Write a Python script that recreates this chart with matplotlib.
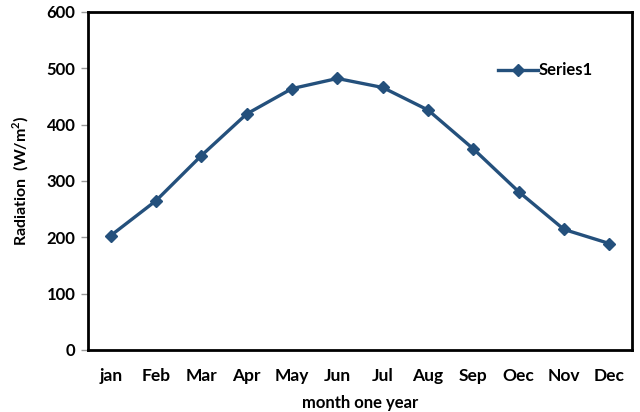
import matplotlib
matplotlib.use("Agg")
import matplotlib.pyplot as plt

months = ["jan", "Feb", "Mar", "Apr", "May", "Jun", "Jul", "Aug", "Sep", "Oec", "Nov", "Dec"]
radiation = [203, 265, 345, 419, 464, 482, 466, 426, 357, 281, 214, 189]
y_ticks = [0, 100, 200, 300, 400, 500, 600]

plt.rcParams['font.family'] = ['Lato', 'DejaVu Sans']
plt.rcParams['font.weight'] = 'bold'

fig = plt.figure(figsize=(6.4, 4.12), dpi=100)
ax = fig.add_axes([0.1375, 0.1505, 0.85, 0.8204])

x = range(len(months))
ax.plot(x, radiation, color='#24507c', linewidth=2.4, marker='D', markersize=6.5,
        label='Series1')

ax.set_xlim(-0.5, 11.5)
ax.set_ylim(0, 600)
ax.set_yticks(y_ticks)
ax.set_xticks(list(x))
ax.set_xticklabels(months)

for s in ax.spines.values():
    s.set_color('black')
    s.set_linewidth(2)

ax.tick_params(axis='y', direction='out', length=5, width=1, color='#999999',
               labelsize=12, pad=4)
ax.tick_params(axis='x', length=0, labelsize=12.5, pad=13)
for lbl in ax.get_xticklabels() + ax.get_yticklabels():
    lbl.set_fontweight('bold')

ax.set_xlabel("month one year", fontsize=12, fontweight='bold', labelpad=8)
ax.set_ylabel("Radiation  (W/m$^\\mathregular{2}$)", fontsize=11.5, fontweight='bold', labelpad=11)

ax.legend(loc='upper right', bbox_to_anchor=(0.955, 0.895), frameon=False,
          handlelength=2.4, handletextpad=0.05,
          prop={'weight': 'bold', 'size': 12})

fig.savefig("out.png", dpi=100)
